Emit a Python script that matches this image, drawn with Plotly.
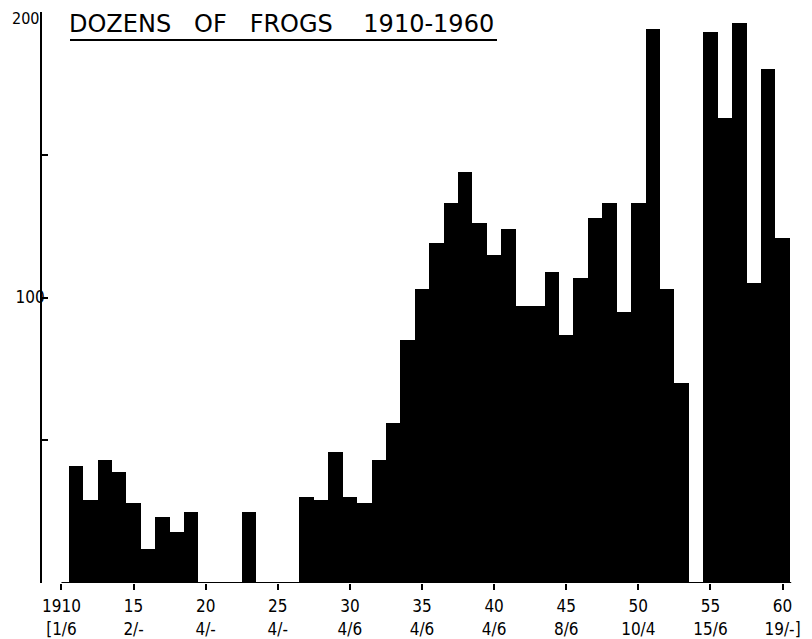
import plotly.graph_objects as go

# ---- data ----
years = list(range(1911, 1961))
dozens = [41, 29, 43, 39, 28, 12, 23, 18, 25, 0,
          0, 0, 25, 0, 0, 0, 30, 29, 46, 30,
          28, 43, 56, 85, 103, 119, 133, 144, 126, 115,
          124, 97, 97, 109, 87, 107, 128, 133, 95, 133,
          194, 103, 70, 0, 193, 163, 196, 105, 180, 121]
x_tick_years = [1910, 1915, 1920, 1925, 1930, 1935, 1940, 1945, 1950, 1955, 1960]
x_tick_years_lbl = ["1910", "15", "20", "25", "30", "35", "40", "45", "50", "55", "60"]
x_tick_prices = ["[1/6", "2/-", "4/-", "4/-", "4/6", "4/6", "4/6", "8/6", "10/4", "15/6", "19/-]"]
y_tick_vals = [0, 50, 100, 150, 200]
y_tick_text = ["", "", "100", "", ""]
y_top_label = "200"
title_text = "DOZENS\u00a0\u00a0\u00a0OF\u00a0\u00a0\u00a0FROGS\u00a0\u00a0\u00a0\u00a01910-1960"

# the page adds an 8px body margin; the figure is sized to fit the window
OFF = 8
W, H = 812 - OFF, 639 - OFF
ML, MR, MT, MB = 42 - OFF, 12, 12 - OFF, 56
pw, ph = W - ML - MR, H - MT - MB


def fx(page_px):
    return (page_px - OFF - ML) / pw


def fy(page_px):
    return (H - MB - (page_px - OFF)) / ph


font_fam = "DejaVu Sans Condensed, DejaVu Sans, sans-serif"

fig = go.Figure()
fig.add_trace(go.Bar(
    x=years, y=dozens, width=1.0,
    marker=dict(color="black", line=dict(width=0)),
    hoverinfo="x+y",
))

fig.update_layout(
    width=W, height=H,
    margin=dict(l=ML, r=MR, t=MT, b=MB, autoexpand=False),
    paper_bgcolor="white", plot_bgcolor="white",
    bargap=0, showlegend=False,
    xaxis=dict(
        range=[1908.65, 1961.21], automargin=False,
        showgrid=False, zeroline=False, showline=False,
        tickmode="array", tickvals=x_tick_years,
        ticktext=[f"{a}<br>{b}" for a, b in zip(x_tick_years_lbl, x_tick_prices)],
        ticks="outside", ticklen=6, tickwidth=1.5, tickcolor="black",
        tickfont=dict(family=font_fam, size=17, color="black"),
        ticklabelstandoff=2,
    ),
    yaxis=dict(
        range=[0, 200], automargin=False,
        showgrid=False, zeroline=False,
        showline=True, linecolor="black", linewidth=1.8,
        tickmode="array", tickvals=y_tick_vals, ticktext=y_tick_text,
        ticks="inside", ticklen=6, tickwidth=1.5, tickcolor="black",
        tickfont=dict(family=font_fam, size=17, color="black"),
        ticklabelstandoff=-8,
    ),
    shapes=[
        # x axis baseline (starts at 1910 like the original drawing)
        dict(type="line", xref="x", yref="y", x0=1910, x1=1960.6, y0=0, y1=0,
             line=dict(color="black", width=2)),
        # title underline
        dict(type="line", xref="paper", yref="paper",
             x0=fx(70), x1=fx(497), y0=fy(40), y1=fy(40),
             line=dict(color="black", width=2)),
    ],
    annotations=[
        dict(text=title_text, xref="paper", yref="paper",
             x=fx(67), y=fy(24), xanchor="left", yanchor="middle",
             showarrow=False,
             font=dict(family="DejaVu Sans, sans-serif", size=24, color="black")),
        dict(text=y_top_label, xref="paper", yref="y",
             x=0, y=200, xanchor="right", yanchor="middle", yshift=-6, xshift=-1,
             showarrow=False,
             font=dict(family=font_fam, size=16, color="black")),
    ],
)

fig.write_html("out.html")
